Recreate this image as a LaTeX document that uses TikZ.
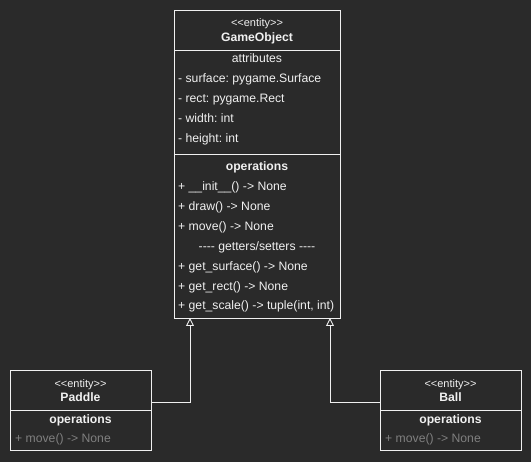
\documentclass[tikz,border=0pt]{standalone}
\usepackage{fontspec}
\setmainfont{Liberation Sans}
\usetikzlibrary{arrows.meta}
\definecolor{canvas}{HTML}{2A2A2A}
\definecolor{ink}{HTML}{F0F0F0}
\definecolor{dim}{HTML}{7F7F7F}
\newcommand{\stereotype}[1]{{<}{<}#1{>}{>}}
\frenchspacing
\begin{document}
\begin{tikzpicture}[x=1pt,y=-1pt,
  classbox/.style={draw=ink, line width=0.9pt, fill=canvas, rectangle, inner sep=0pt, anchor=north west},
  sep/.style={draw=ink, line width=0.9pt},
  txt/.style={text=ink, font=\fontsize{12.2}{14}\selectfont, inner sep=0pt, text height=8.8pt, text depth=2.6pt},
  head/.style={txt, font=\fontsize{12.2}{14}\selectfont\bfseries},
  stereo/.style={txt, font=\fontsize{11}{13}\selectfont},
  item/.style={txt, anchor=west},
  ditem/.style={item, text=dim},
  inherit/.style={draw=ink, line width=0.9pt, -{Triangle[open, width=8pt, length=8pt, fill=canvas]}}
]
\fill[canvas] (0,0) rectangle (531,462);
\useasboundingbox (0,0) rectangle (531,462);

% GameObject class
\node[classbox, minimum width=166pt, minimum height=308pt] (go) at (174,10) {};
\draw[sep] (174,50) -- (340,50);
\draw[sep] (174,154) -- (340,154);
\node[stereo] (goS) at (257,23) {\stereotype{entity}};
\node[head] (goN) at (257,38) {GameObject};
\node[txt] (goA) at (257,59) {attributes};
\node[item] (a1) at (178,79) {- surface: pygame.Surface};
\node[item] (a2) at (178,99) {- rect: pygame.Rect};
\node[item] (a3) at (178,119) {- width: int};
\node[item] (a4) at (178,139) {- height: int};
\node[head] (goO) at (257,167) {operations};
\node[item] (o1) at (178,187) {+ \_\_init\_\_() -> None};
\node[item] (o2) at (178,207) {+ draw() -> None};
\node[item] (o3) at (178,227) {+ move() -> None};
\node[txt] (o4) at (257,247) {-{}-{}-{}- getters/setters -{}-{}-{}-};
\node[item] (o5) at (178,267) {+ get\_surface() -> None};
\node[item] (o6) at (178,287) {+ get\_rect() -> None};
\node[item] (o7) at (178,306) {+ get\_scale() -> tuple(int, int)};

% Paddle class
\node[classbox, minimum width=141pt, minimum height=80pt] (paddle) at (10,370) {};
\draw[sep] (10,410) -- (151,410);
\node[stereo] (pS) at (80.5,384) {\stereotype{entity}};
\node[head] (pN) at (80.5,398) {Paddle};
\node[head] (pO) at (80.5,420) {operations};
\node[ditem] (p1) at (15,439) {+ move() -> None};

% Ball class
\node[classbox, minimum width=141pt, minimum height=80pt] (ball) at (380,370) {};
\draw[sep] (380,410) -- (521,410);
\node[stereo] (bS) at (450.5,384) {\stereotype{entity}};
\node[head] (bN) at (450.5,398) {Ball};
\node[head] (bO) at (450.5,420) {operations};
\node[ditem] (b1) at (385,439) {+ move() -> None};

% generalisation arrows
\coordinate (goL) at (190,318);
\coordinate (goR) at (330,318);
\draw[inherit] ([yshift=-32pt]paddle.north east) -| (goL);
\draw[inherit] ([yshift=-32pt]ball.north west) -| (goR);
\end{tikzpicture}
\end{document}
